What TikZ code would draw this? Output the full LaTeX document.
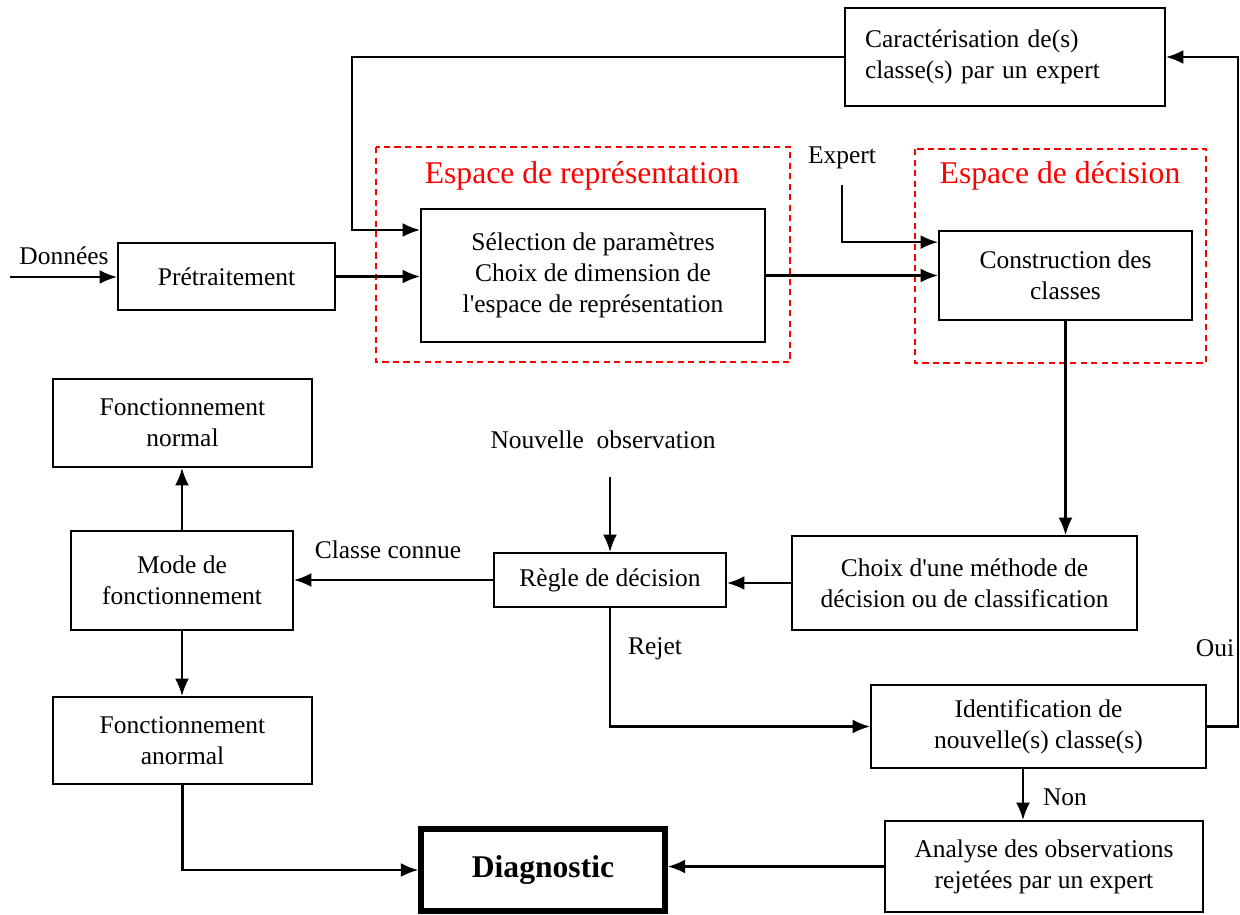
\documentclass[tikz,border=0pt]{standalone}
\usepackage{fontspec}
\setmainfont{Liberation Serif}
\usetikzlibrary{arrows.meta}
\def\u{0.02cm}
\newcommand{\apos}{\textquotesingle}
\tikzset{
  x=0.02cm, y=-0.02cm,
  box/.style={draw, line width=1pt, inner sep=0pt, align=center,
    font=\fontsize{14.5pt}{17.6pt}\selectfont},
  lbl/.style={inner sep=0pt, font=\fontsize{14.5pt}{17.6pt}\selectfont},
  redlbl/.style={inner sep=0pt, text=red, font=\fontsize{18pt}{21pt}\selectfont},
  zone/.style={draw=red, line width=0.9pt, dash pattern=on 3.5pt off 2.5pt},
  arr/.style={line width=1.4pt, -{Latex[length=10pt,width=8pt]}},
}
\begin{document}
\begin{tikzpicture}
\useasboundingbox (0,0) rectangle (1240,914);

% dashed zones
\draw[zone] (376,147) rectangle (790,362);
\draw[zone] (915,149) rectangle (1206,363);
\node[redlbl] (zrep) at (582,176) {Espace de représentation};
\node[redlbl] (zdec) at (1060,176) {Espace de décision};

% boxes
\node[box, minimum width=217*\u, minimum height=67*\u] (pre) at (226.5,276.5) {Prétraitement};
\node[box, minimum width=344*\u, minimum height=133*\u] (sel) at (593,275.5)
  {Sélection de paramètres\\Choix de dimension de\\l\apos espace de représentation};
\node[box, minimum width=253*\u, minimum height=89*\u] (cons) at (1065.5,275.5)
  {Construction des\\classes};
\node[box, align=left, text width=280*\u, inner xsep=20*\u, minimum height=98*\u] (car) at (1005,57)
  {Caractérisation de(s)\\classe(s) par un expert};
\node[box, minimum width=345*\u, minimum height=94*\u] (choix) at (964.5,583)
  {Choix d\apos une méthode de\\décision ou de classification};
\node[box, minimum width=232*\u, minimum height=54*\u] (regle) at (610,580) {Règle de décision};
\node[box, minimum width=222*\u, minimum height=99*\u] (mode) at (182,580.5)
  {Mode de\\fonctionnement};
\node[box, minimum width=259*\u, minimum height=88*\u] (normal) at (182.5,423)
  {Fonctionnement\\normal};
\node[box, minimum width=259*\u, minimum height=87*\u] (anormal) at (182.5,740.5)
  {Fonctionnement\\anormal};
\node[box, line width=3pt, minimum width=244*\u, minimum height=82*\u,
  font=\fontsize{18pt}{21pt}\selectfont\bfseries] (diag) at (543,870) {Diagnostic};
\node[box, minimum width=335*\u, minimum height=83*\u] (ident) at (1038.5,726.5)
  {Identification de\\nouvelle(s) classe(s)};
\node[box, minimum width=318*\u, minimum height=91*\u] (ana) at (1044,866.5)
  {Analyse des observations\\rejetées par un expert};

% free labels
\node[lbl] (ldon) at (64,256) {Données};
\node[lbl] (lexp) at (842,158) {Expert};
\node[lbl] (lnob) at (603,440) {Nouvelle\ \ observation};
\node[lbl] (lcc) at (388,550) {Classe connue};
\node[lbl] (lrej) at (655,649) {Rejet};
\node[lbl] (lnon) at (1065,797) {Non};
\node[lbl] (loui) at (1215,648) {Oui};

% free ends and bends
\coordinate (din) at (10,277);
\coordinate (exp) at (842,185);
\coordinate (fb) at (352,230);
\coordinate (rt) at (1238,0);
\coordinate (nobs) at (610,477);
\coordinate (ia) at (1023,0);

% connectors
\draw[arr] (din) -- (din -| pre.west);
\draw[arr] (pre.east) -- (pre.east -| sel.west);
\draw[arr] (sel.east) -- (sel.east -| cons.west);
\draw[arr] (exp) |- ([yshift=-0.24cm]cons.north west);
\draw[arr] (car.west) -| (fb) -- (fb -| sel.west);
\draw[arr] (ident.east) -| (rt |- car.east) -- (car.east);
\draw[arr] (cons.south) -- (cons.south |- choix.north);
\draw[arr] (choix.west) -- (choix.west -| regle.east);
\draw[arr] (nobs) -- (regle.north);
\draw[arr] (regle.west) -- (regle.west -| mode.east);
\draw[arr] (mode.north) -- (mode.north |- normal.south);
\draw[arr] (mode.south) -- (mode.south |- anormal.north);
\draw[arr] (anormal.south) |- (diag.west);
\draw[arr] (regle.south) |- (ident.west);
\draw[arr] (ia |- ident.south) -- (ia |- ana.north);
\draw[arr] (ana.west) -- (ana.west -| diag.east);
\end{tikzpicture}
\end{document}
